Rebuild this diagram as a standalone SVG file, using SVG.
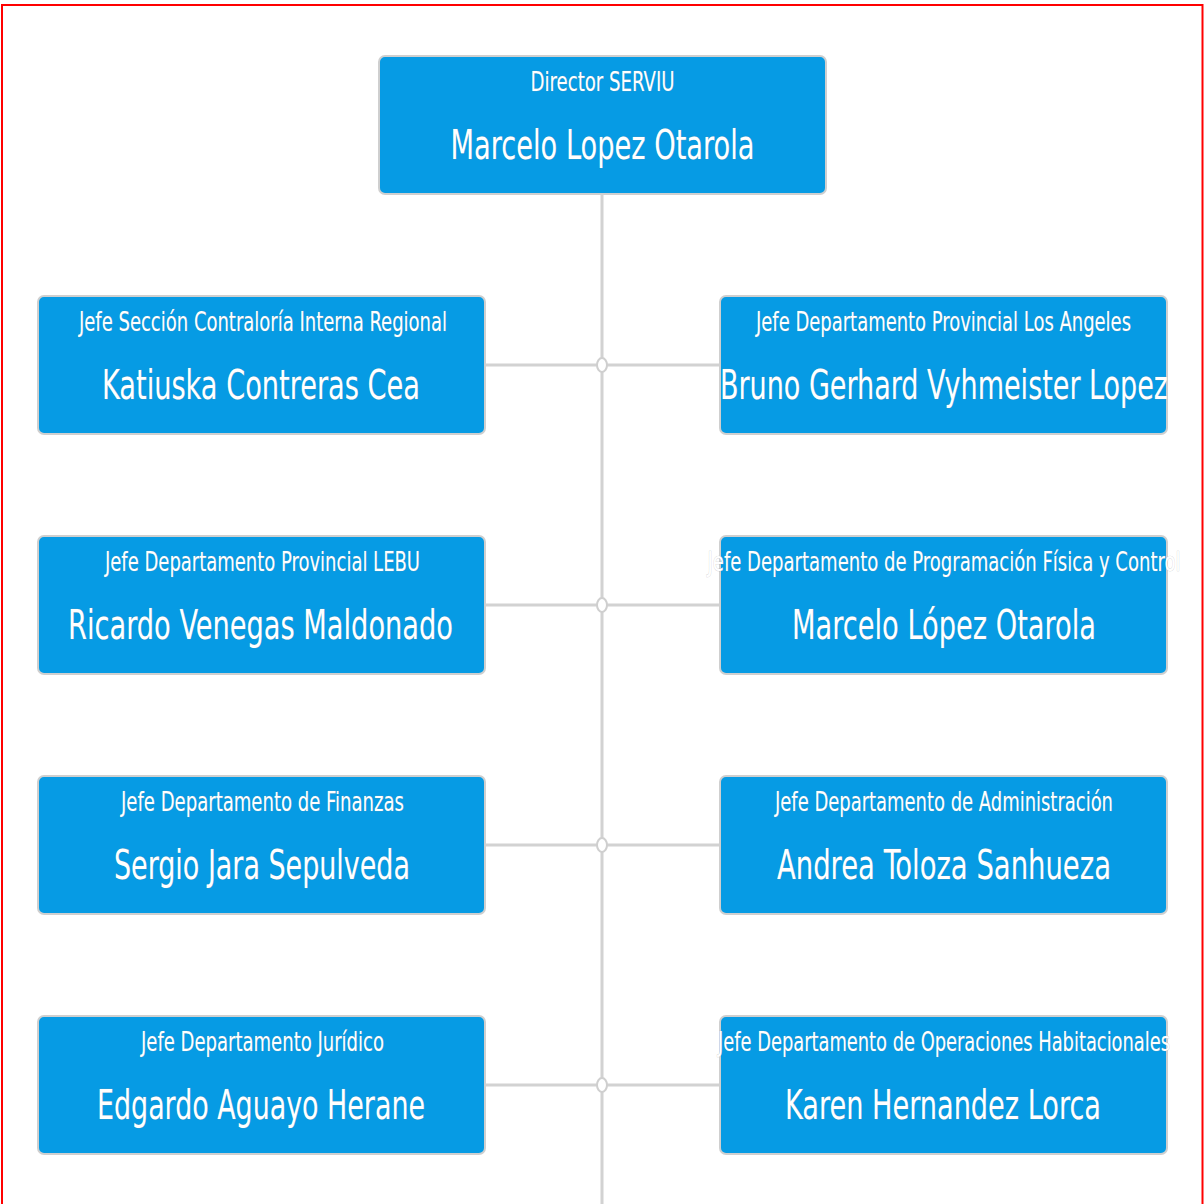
<svg xmlns="http://www.w3.org/2000/svg" width="1204" height="1204" viewBox="0 0 1204 1204">
<defs>
<style>
.box{fill:#069be4;stroke:#cfcfcf;stroke-width:2}
.t{font-family:"DejaVu Sans Condensed","DejaVu Sans",sans-serif;fill:#fff;text-anchor:middle;stroke:#9a9a9a;stroke-width:0.6;stroke-opacity:0.6;paint-order:stroke}
.s{font-size:26px}
.n{font-size:40px}
.ln{stroke:#d2d2d2;stroke-width:3;fill:none}
.dot{fill:#fff;stroke:#cfcfcf;stroke-width:2}
</style>
</defs>
<rect x="0" y="0" width="1204" height="1204" fill="#fff"/>
<rect x="2" y="5" width="1200.5" height="1210" fill="none" stroke="#f00" stroke-width="2"/>
<g id="connectors">
<line class="ln" x1="602" y1="194" x2="602" y2="1204"/>
<line class="ln" x1="485" y1="365" x2="720" y2="365"/>
<line class="ln" x1="485" y1="605" x2="720" y2="605"/>
<line class="ln" x1="485" y1="845" x2="720" y2="845"/>
<line class="ln" x1="485" y1="1085" x2="720" y2="1085"/>
<ellipse class="dot" cx="602" cy="365" rx="5" ry="7"/>
<ellipse class="dot" cx="602" cy="605" rx="5" ry="7"/>
<ellipse class="dot" cx="602" cy="845" rx="5" ry="7"/>
<ellipse class="dot" cx="602" cy="1085" rx="5" ry="7"/>
</g>
<g id="director">
<rect class="box" x="379" y="56" width="447" height="138" rx="6"/>
<text class="t s" x="602.5" y="91" textLength="144" lengthAdjust="spacingAndGlyphs">Director SERVIU</text>
<text class="t n" x="602.5" y="159" textLength="304" lengthAdjust="spacingAndGlyphs">Marcelo Lopez Otarola</text>
</g>
<g id="contraloria">
<rect class="box" x="38" y="296" width="447" height="138" rx="6"/>
<text class="t s" x="263" y="331" textLength="368" lengthAdjust="spacingAndGlyphs">Jefe Sección Contraloría Interna Regional</text>
<text class="t n" x="261" y="399" textLength="318" lengthAdjust="spacingAndGlyphs">Katiuska Contreras Cea</text>
</g>
<g id="losangeles">
<rect class="box" x="720" y="296" width="447" height="138" rx="6"/>
<text class="t s" x="943.5" y="331" textLength="375" lengthAdjust="spacingAndGlyphs">Jefe Departamento Provincial Los Angeles</text>
<text class="t n" x="944" y="399" textLength="448" lengthAdjust="spacingAndGlyphs">Bruno Gerhard Vyhmeister Lopez</text>
</g>
<g id="lebu">
<rect class="box" x="38" y="536" width="447" height="138" rx="6"/>
<text class="t s" x="262.5" y="571" textLength="315" lengthAdjust="spacingAndGlyphs">Jefe Departamento Provincial LEBU</text>
<text class="t n" x="260.5" y="639" textLength="385" lengthAdjust="spacingAndGlyphs">Ricardo Venegas Maldonado</text>
</g>
<g id="programacion">
<rect class="box" x="720" y="536" width="447" height="138" rx="6"/>
<text class="t s" x="944" y="571" textLength="473" lengthAdjust="spacingAndGlyphs">Jefe Departamento de Programación Física y Control</text>
<text class="t n" x="944" y="639" textLength="304" lengthAdjust="spacingAndGlyphs">Marcelo López Otarola</text>
</g>
<g id="finanzas">
<rect class="box" x="38" y="776" width="447" height="138" rx="6"/>
<text class="t s" x="262.5" y="811" textLength="283" lengthAdjust="spacingAndGlyphs">Jefe Departamento de Finanzas</text>
<text class="t n" x="262" y="879" textLength="296" lengthAdjust="spacingAndGlyphs">Sergio Jara Sepulveda</text>
</g>
<g id="administracion">
<rect class="box" x="720" y="776" width="447" height="138" rx="6"/>
<text class="t s" x="944" y="811" textLength="338" lengthAdjust="spacingAndGlyphs">Jefe Departamento de Administración</text>
<text class="t n" x="944" y="879" textLength="334" lengthAdjust="spacingAndGlyphs">Andrea Toloza Sanhueza</text>
</g>
<g id="juridico">
<rect class="box" x="38" y="1016" width="447" height="138" rx="6"/>
<text class="t s" x="262.5" y="1051" textLength="243" lengthAdjust="spacingAndGlyphs">Jefe Departamento Jurídico</text>
<text class="t n" x="261" y="1119" textLength="328" lengthAdjust="spacingAndGlyphs">Edgardo Aguayo Herane</text>
</g>
<g id="operaciones">
<rect class="box" x="720" y="1016" width="447" height="138" rx="6"/>
<text class="t s" x="944" y="1051" textLength="452" lengthAdjust="spacingAndGlyphs">Jefe Departamento de Operaciones Habitacionales</text>
<text class="t n" x="943" y="1119" textLength="316" lengthAdjust="spacingAndGlyphs">Karen Hernandez Lorca</text>
</g>
</svg>
